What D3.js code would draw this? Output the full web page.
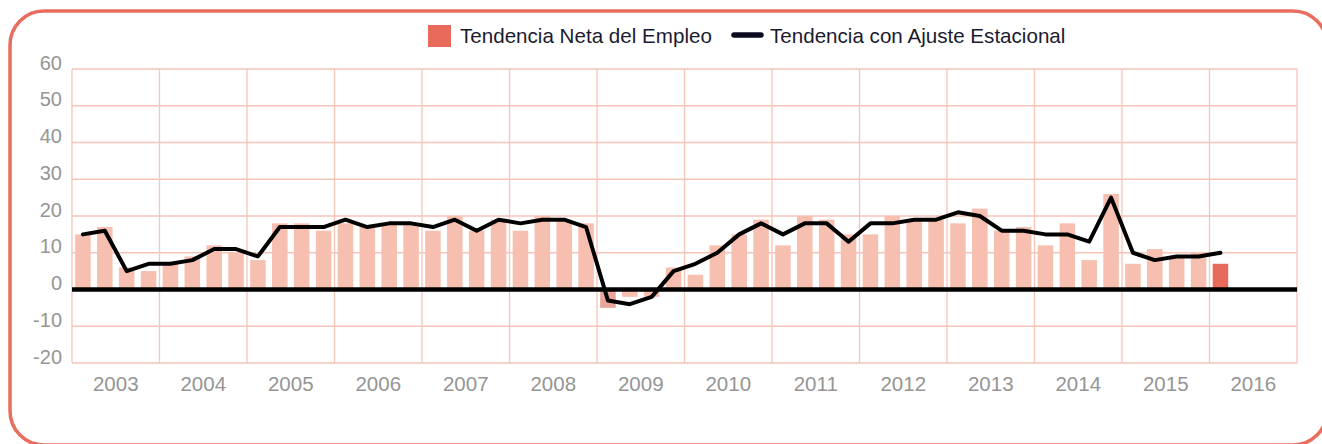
<!DOCTYPE html>
<html>
<head>
<meta charset="utf-8">
<script src="https://cdn.jsdelivr.net/npm/d3@7"></script>
<style>
  html, body { margin: 0; padding: 0; background: #fff; }
  svg { display: block; }
  .tick-label { font-family: "Helvetica Neue", Arial, "Liberation Sans", sans-serif; fill: #959595; }
  .legend-text { font-family: "Helvetica Neue", Arial, "Liberation Sans", sans-serif; fill: #1b1b2f; }
</style>
</head>
<body>
<div id="chart"></div>
<script>
// years on the x axis, one band per year with four quarters each
const years = [2003, 2004, 2005, 2006, 2007, 2008, 2009, 2010, 2011, 2012, 2013, 2014, 2015, 2016];
const yTicks = [-20, -10, 0, 10, 20, 30, 40, 50, 60];

// Tendencia Neta del Empleo, quarterly, 2003 Q1 .. 2016 Q1
const netTrend = [
  15, 17, 6, 5,
  7, 9, 12, 10,
  8, 18, 18, 16,
  18, 17, 18, 18,
  16, 20, 16, 19,
  16, 20, 19, 18,
  -5, -2, -2, 6,
  4, 12, 15, 19,
  12, 20, 19, 15,
  15, 20, 19, 19,
  18, 22, 16, 17,
  12, 18, 8, 26,
  7, 11, 9, 10,
  7
];

// Tendencia con Ajuste Estacional, quarterly, 2003 Q1 .. 2016 Q1
const seasonalTrend = [
  15, 16, 5, 7,
  7, 8, 11, 11,
  9, 17, 17, 17,
  19, 17, 18, 18,
  17, 19, 16, 19,
  18, 19, 19, 17,
  -3, -4, -2, 5,
  7, 10, 15, 18,
  15, 18, 18, 13,
  18, 18, 19, 19,
  21, 20, 16, 16,
  15, 15, 13, 25,
  10, 8, 9, 9,
  10
];

const W = 1322, H = 444;
const plotLeft = 72, plotRight = 1297, plotTop = 69, plotBottom = 363;

const svg = d3.select("#chart").append("svg")
  .attr("width", W)
  .attr("height", H);

// outer rounded frame
svg.append("rect")
  .attr("x", 10).attr("y", 11)
  .attr("width", 1317).attr("height", 434)
  .attr("rx", 34).attr("ry", 34)
  .attr("fill", "none")
  .attr("stroke", "#e96d5e")
  .attr("stroke-width", 3.5);

const quarters = [];
years.forEach((yr) => {
  for (let q = 1; q <= 4; q++) quarters.push(yr + "Q" + q);
});

const xYear = d3.scaleBand().domain(years).range([plotLeft, plotRight]);
const x = d3.scaleBand()
  .domain(quarters)
  .range([plotLeft, plotRight])
  .paddingInner(0.29)
  .paddingOuter(0.145);
const y = d3.scaleLinear().domain([-20, 60]).range([plotBottom, plotTop]);

const barData = netTrend.map((v, i) => ({ q: quarters[i], v, last: i === netTrend.length - 1 }));
const lineData = seasonalTrend.map((v, i) => ({ q: quarters[i], v }));

// grid
const grid = svg.append("g").attr("stroke", "#f7c4b8").attr("stroke-width", 1.3);
grid.selectAll(".hgrid")
  .data(yTicks.filter((t) => t !== 0))
  .enter()
  .append("line")
  .attr("x1", plotLeft).attr("x2", plotRight)
  .attr("y1", (d) => y(d)).attr("y2", (d) => y(d));
grid.selectAll(".vgrid")
  .data(years.concat([null]))
  .enter()
  .append("line")
  .attr("x1", (d) => (d === null ? plotRight : xYear(d)))
  .attr("x2", (d) => (d === null ? plotRight : xYear(d)))
  .attr("y1", plotTop).attr("y2", plotBottom);

// y axis labels, baseline sitting on the gridline
const yAxis = svg.append("g")
  .attr("transform", `translate(${plotLeft},0)`)
  .call(d3.axisLeft(y).tickValues(yTicks).tickFormat((d) => String(d)).tickSize(0).tickPadding(10));
yAxis.select(".domain").remove();
yAxis.selectAll("text")
  .attr("class", "tick-label")
  .attr("dy", "0")
  .style("font-size", "20px");

// x axis year labels
const xAxis = svg.append("g")
  .attr("transform", `translate(0,${plotBottom})`)
  .call(d3.axisBottom(xYear).tickSize(0).tickPadding(0));
xAxis.select(".domain").remove();
xAxis.selectAll("text")
  .attr("class", "tick-label")
  .attr("y", 0)
  .attr("dy", "27.5")
  .style("font-size", "20.5px");

// bars
svg.append("g")
  .selectAll("rect")
  .data(barData)
  .enter()
  .append("rect")
  .attr("x", (d) => x(d.q))
  .attr("width", x.bandwidth())
  .attr("y", (d) => y(Math.max(0, d.v)))
  .attr("height", (d) => Math.abs(y(d.v) - y(0)))
  .attr("fill", (d) => (d.last ? "#e86a5a" : d.v < -3 ? "#e9a49c" : "#f6bfb0"));

// zero line
svg.append("line")
  .attr("x1", plotLeft).attr("x2", plotRight)
  .attr("y1", y(0)).attr("y2", y(0))
  .attr("stroke", "#000")
  .attr("stroke-width", 4.5);

// seasonal adjusted line
const line = d3.line()
  .x((d) => x(d.q) + x.bandwidth() / 2)
  .y((d) => y(d.v));
svg.append("path")
  .datum(lineData)
  .attr("d", line)
  .attr("fill", "none")
  .attr("stroke", "#000")
  .attr("stroke-width", 4)
  .attr("stroke-linejoin", "round")
  .attr("stroke-linecap", "round");

// legend
const legend = svg.append("g");
legend.append("rect")
  .attr("x", 428).attr("y", 25)
  .attr("width", 23).attr("height", 22)
  .attr("fill", "#e86a5a");
legend.append("text")
  .attr("class", "legend-text")
  .attr("x", 460).attr("y", 43)
  .style("font-size", "20.6px")
  .text("Tendencia Neta del Empleo");
legend.append("line")
  .attr("x1", 734).attr("x2", 761)
  .attr("y1", 35).attr("y2", 35)
  .attr("stroke", "#0a0a1e")
  .attr("stroke-width", 5.5)
  .attr("stroke-linecap", "round");
legend.append("text")
  .attr("class", "legend-text")
  .attr("x", 770).attr("y", 43)
  .style("font-size", "20.6px")
  .text("Tendencia con Ajuste Estacional");
</script>
</body>
</html>
